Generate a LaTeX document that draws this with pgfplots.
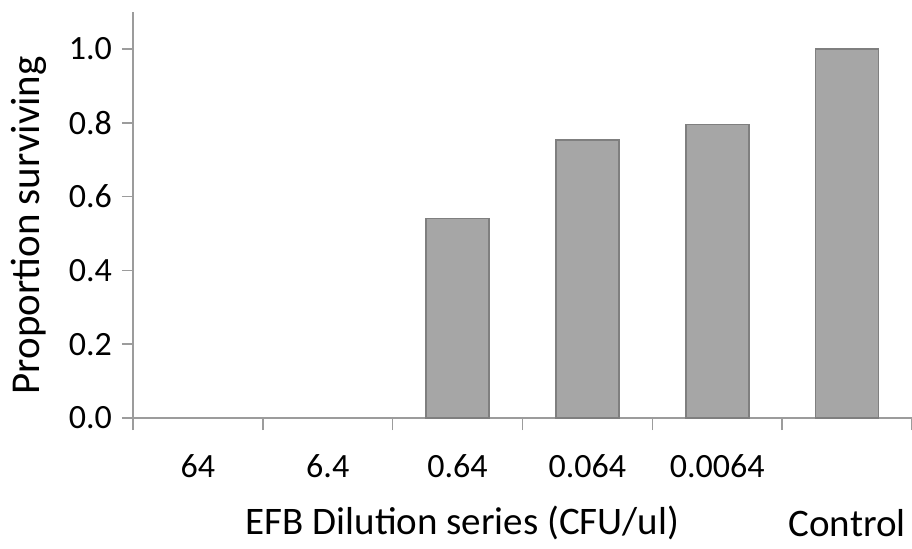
\documentclass[border=0pt]{standalone}
\usepackage{pgfplots}
\pgfplotsset{compat=1.18}
\usepackage{fontspec}
\setmainfont{Carlito}
\definecolor{barfill}{HTML}{A6A6A6}
\definecolor{baredge}{HTML}{7F7F7F}
\definecolor{axisgray}{HTML}{9C9C9C}
\newcommand{\tickfont}{\fontsize{17}{20}\selectfont}
\newcommand{\labelfont}{\fontsize{19.5}{23}\selectfont}
\begin{document}
\begin{tikzpicture}
\useasboundingbox (-66.5pt,-65pt) rectangle (389.5pt,209pt); % 912x548 px at 0.5pt/px
\begin{axis}[
    at={(0,0)}, anchor=south west,
    scale only axis,
    width=389.5pt, height=203pt,
    ybar, bar width=31.5pt,
    xmin=-0.5, xmax=5.5,
    ymin=0, ymax=1.1,
    axis x line*=bottom, axis y line*=left,
    axis line style={draw=axisgray, line width=0.8pt},
    xtick={0,...,5},
    xticklabels={64,6.4,0.64,0.064,0.0064,{\raisebox{-29.5pt}[0pt][0pt]{\labelfont Control}}},
    major x tick style={draw=none},
    minor xtick={-0.5,0.5,...,5.5},
    minor x tick style={draw=axisgray, line width=0.8pt},
    minor tick length=6pt,
    ytick={0,0.2,...,1.01},
    y tick style={draw=axisgray, line width=0.8pt},
    major tick length=5.5pt,
    tick align=outside,
    yticklabel style={xshift=-1.5pt, /pgf/number format/.cd, fixed, fixed zerofill, precision=1},
    /pgf/number format/assume math mode=true,
    ticklabel style={font=\tickfont},
    xticklabel style={anchor=base, yshift=-24pt},
    xlabel={EFB Dilution series (CFU/ul)},
    xlabel style={at={(rel axis cs:0.423,0)}, anchor=base, yshift=-58pt, font=\labelfont},
    ylabel={Proportion surviving},
    ylabel style={at={(axis description cs:-0.1335,0.475)}, anchor=center, font=\fontsize{20.5}{24}\selectfont},
    clip=false,
]
% the two highest doses (64 and 6.4) have 0 survival: no visible bar
\addplot[fill=barfill, draw=baredge, line width=0.8pt]
  coordinates {(2,0.54) (3,0.754) (4,0.795) (5,1.0)};
\end{axis}
\end{tikzpicture}
\end{document}
